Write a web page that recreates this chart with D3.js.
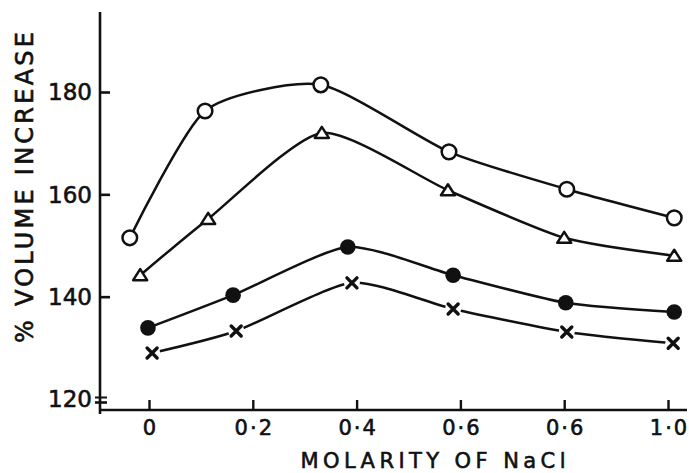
<!DOCTYPE html>
<html>
<head>
<meta charset="utf-8">
<script src="https://cdn.jsdelivr.net/npm/d3@7"></script>
<style>
  html, body { margin: 0; padding: 0; background: #fff; }
  svg { display: block; }
  text { font-family: "DejaVu Sans", sans-serif; fill: #111; stroke: #111; stroke-width: 0.6px; }
</style>
</head>
<body>
<svg id="chart" width="689" height="473"></svg>
<script>
// Molarity of NaCl for each measured point, per series
const molarityOpen     = [-0.037, 0.108, 0.331, 0.578, 0.805, 1.012];
const molarityTriangle = [-0.017, 0.114, 0.333, 0.576, 0.800, 1.012];
const molarityFilled   = [-0.002, 0.162, 0.383, 0.586, 0.803, 1.012];
const molarityCross    = [ 0.006, 0.168, 0.391, 0.586, 0.805, 1.010];

// % volume increase
const volumeOpen     = [151.5, 176.3, 181.4, 168.3, 161.0, 155.4];
const volumeTriangle = [144.2, 155.2, 172.0, 160.8, 151.5, 148.0];
const volumeFilled   = [133.9, 140.3, 149.7, 144.2, 138.8, 137.0];
const volumeCross    = [129.0, 133.3, 142.7, 137.6, 133.1, 130.9];

const xTickValues = [0, 0.2, 0.4, 0.6, 0.8, 1.0];
const xTickLabels = ["0", "0·2", "0·4", "0·6", "0·6", "1·0"];
const yTickValues = [120, 140, 160, 180];

const svg = d3.select("#chart");
const ink = "#111";

const x = d3.scaleLinear().domain([0, 1]).range([149, 668]);
const y = d3.scaleLinear().domain([120, 180]).range([399, 92]);

const axisX0 = 100, axisY0 = 410;

// axis lines
svg.append("line").attr("x1", axisX0).attr("x2", axisX0).attr("y1", 12).attr("y2", 414)
  .attr("stroke", ink).attr("stroke-width", 2.6);
svg.append("line").attr("x1", axisX0 - 1).attr("x2", 687).attr("y1", axisY0).attr("y2", axisY0)
  .attr("stroke", ink).attr("stroke-width", 2.6);

// y axis: inward ticks
const gy = svg.append("g").attr("transform", `translate(${axisX0},0)`)
  .call(d3.axisLeft(y).tickValues(yTickValues).tickSize(-10).tickPadding(8).tickFormat(d3.format("d")));
gy.select(".domain").remove();
gy.selectAll(".tick line").attr("stroke", ink).attr("stroke-width", 2.6);
gy.selectAll(".tick text").attr("font-size", 23).attr("fill", ink).attr("dy", "0.34em");
// axis break marks in place of the lowest tick
gy.selectAll(".tick").filter(d => d === 120).each(function () {
  const t = d3.select(this);
  t.select("line").remove();
  t.append("line").attr("x1", -5).attr("x2", 7).attr("y1", -2).attr("y2", -2)
    .attr("stroke", ink).attr("stroke-width", 2);
  t.append("line").attr("x1", -5).attr("x2", 7).attr("y1", 3).attr("y2", 3)
    .attr("stroke", ink).attr("stroke-width", 2.6);
});

// x axis: upward ticks
const gx = svg.append("g").attr("transform", `translate(0,${axisY0})`)
  .call(d3.axisBottom(x).tickValues(xTickValues).tickSize(-10).tickPadding(10)
    .tickFormat((d, i) => xTickLabels[i]));
gx.select(".domain").remove();
gx.selectAll(".tick line").attr("stroke", ink).attr("stroke-width", 2.4);
gx.selectAll(".tick text").attr("font-size", 21).attr("fill", ink)
  .attr("letter-spacing", "2px").attr("dx", "1px");

// axis titles
svg.append("text")
  .attr("transform", "translate(33,187.5) rotate(-90)")
  .attr("text-anchor", "middle")
  .attr("font-size", 24)
  .attr("textLength", 311).attr("lengthAdjust", "spacing")
  .text("% VOLUME INCREASE");

svg.append("text")
  .attr("x", 433).attr("y", 468)
  .attr("text-anchor", "middle")
  .attr("font-size", 21)
  .attr("textLength", 265).attr("lengthAdjust", "spacing")
  .text("MOLARITY OF NaCl");

// series
const series = [
  { xs: molarityOpen,     ys: volumeOpen,     marker: "openCircle" },
  { xs: molarityTriangle, ys: volumeTriangle, marker: "triangle" },
  { xs: molarityFilled,   ys: volumeFilled,   marker: "filledCircle" },
  { xs: molarityCross,    ys: volumeCross,    marker: "cross" }
];

const line = d3.line()
  .x(d => x(d[0]))
  .y(d => y(d[1]))
  .curve(d3.curveCardinal.tension(0.35));

series.forEach(s => {
  const pts = s.xs.map((v, i) => [v, s.ys[i]]);
  svg.append("path")
    .attr("d", line(pts))
    .attr("fill", "none")
    .attr("stroke", ink)
    .attr("stroke-width", 2.5)
    .attr("stroke-linejoin", "round");
});

series.forEach(s => {
  const pts = s.xs.map((v, i) => [v, s.ys[i]]);
  const g = svg.append("g");
  pts.forEach(p => {
    const m = g.append("g").attr("transform", `translate(${x(p[0])},${y(p[1])})`);
    if (s.marker === "openCircle") {
      m.append("circle").attr("r", 7.3).attr("fill", "#fff").attr("stroke", ink).attr("stroke-width", 2.5);
    } else if (s.marker === "triangle") {
      m.append("path").attr("d", "M0,-6L7,5L-7,5Z")
        .attr("fill", "#fff").attr("stroke", ink).attr("stroke-width", 2.5).attr("stroke-linejoin", "round");
    } else if (s.marker === "filledCircle") {
      m.append("circle").attr("r", 7.8).attr("fill", ink);
    } else {
      m.append("circle").attr("r", 8).attr("fill", "#fff");
      m.append("path").attr("d", "M-5,-5L5,5M5,-5L-5,5")
        .attr("stroke", ink).attr("stroke-width", 3.4).attr("stroke-linecap", "round");
    }
  });
});
</script>
</body>
</html>
